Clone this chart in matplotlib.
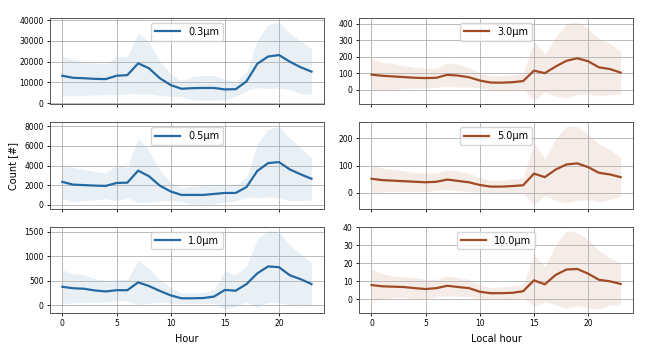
import numpy as np
import matplotlib
matplotlib.use("Agg")
import matplotlib.pyplot as plt
from matplotlib.ticker import MultipleLocator

hours = np.arange(24)

# mean counts per hour and their spread (std)
sizes = ["0.3µm", "0.5µm", "1.0µm", "3.0µm", "5.0µm", "10.0µm"]

mean_03 = [13200, 12200, 12000, 11700, 11600, 13200, 13500, 19200, 16800, 12000, 8700, 6900,
           7200, 7300, 7300, 6600, 6700, 10500, 19000, 22500, 23200, 20000, 17300, 15200]
std_03 = [9500, 8800, 8200, 7800, 7500, 9300, 9000, 14800, 12500, 8300, 5500, 4000,
          5500, 6000, 6000, 4800, 3700, 4500, 11500, 15500, 16000, 13500, 12800, 11000]

mean_05 = [2330, 2050, 2000, 1950, 1920, 2220, 2250, 3480, 2900, 1950, 1350, 1000,
           1000, 1000, 1100, 1200, 1200, 1800, 3450, 4250, 4350, 3600, 3100, 2650]
std_05 = [1700, 1750, 1600, 1450, 1300, 1800, 1550, 3300, 2600, 1550, 950, 700,
          900, 1000, 1000, 900, 800, 1000, 2750, 3450, 3650, 3200, 2700, 2150]

mean_10 = [375, 345, 335, 300, 280, 305, 305, 465, 390, 290, 200, 140,
           140, 145, 175, 310, 295, 430, 650, 790, 775, 610, 530, 430]
std_10 = [345, 295, 285, 240, 220, 215, 215, 455, 350, 230, 160, 110,
          110, 115, 145, 390, 325, 370, 700, 730, 725, 610, 520, 430]

mean_30 = [91, 84, 80, 76, 72, 70, 72, 90, 85, 75, 55, 43,
           42, 45, 52, 115, 100, 140, 175, 190, 172, 135, 125, 103]
std_30 = [99, 81, 80, 69, 63, 60, 58, 70, 70, 60, 45, 42,
          43, 45, 48, 180, 115, 180, 225, 220, 198, 175, 155, 127]

mean_50 = [51, 46, 44, 42, 40, 38, 40, 48, 43, 38, 28, 22,
           22, 24, 27, 70, 57, 85, 104, 108, 94, 73, 67, 57]
std_50 = [54, 44, 41, 38, 35, 34, 32, 37, 37, 34, 27, 23,
          23, 26, 28, 115, 68, 115, 141, 137, 121, 107, 93, 73]

mean_100 = [7.9, 7.2, 7.0, 6.8, 6.2, 5.7, 6.2, 7.5, 6.8, 6.2, 4.2, 3.4,
            3.4, 3.6, 4.5, 10.5, 8.3, 13.5, 16.5, 16.8, 14.2, 10.8, 10.0, 8.5]
std_100 = [9, 7, 6, 5.7, 5.8, 5.3, 4.8, 5.5, 5.2, 4.8, 3.8, 3.1,
           3.6, 3.9, 3.5, 14.5, 9.7, 16.5, 21.5, 20.2, 18.8, 16.2, 13, 11.5]

means = [mean_03, mean_05, mean_10, mean_30, mean_50, mean_100]
stds = [std_03, std_05, std_10, std_30, std_50, std_100]
ytick_step = [10000, 2000, 500, 100, 100, 10]

blue = "#2469a1"
brown = "#a04a26"

fig = plt.figure(figsize=(6.48, 3.47), dpi=100)
gs = fig.add_gridspec(3, 2, left=0.077, right=0.977, top=0.948, bottom=0.098,
                      wspace=0.128, hspace=0.21)

axes = np.empty((3, 2), dtype=object)
for col in range(2):
    for row in range(3):
        share = axes[0, col] if row > 0 else None
        axes[row, col] = fig.add_subplot(gs[row, col], sharex=share)

for i in range(6):
    col = i // 3
    row = i % 3
    ax = axes[row, col]
    color = blue if col == 0 else brown
    m = np.array(means[i])
    s = np.array(stds[i])
    ax.fill_between(hours, m - s, m + s, color=color, alpha=0.1, lw=0)
    ax.plot(hours, m, color=color, lw=1.6, label=sizes[i])
    ax.yaxis.set_major_locator(MultipleLocator(ytick_step[i]))
    ax.grid(True, color="#b0b0b0", lw=0.6)
    ax.tick_params(labelsize=5.5, length=2.5, width=0.6, pad=2)
    for sp in ax.spines.values():
        sp.set_color("#555555")
        sp.set_linewidth(0.7)
    ax.legend(loc="upper center", fontsize=7, handlelength=2.6, framealpha=0.8,
              borderpad=0.4)
    if row < 2:
        plt.setp(ax.get_xticklabels(), visible=False)
    ax.set_xticks([0, 5, 10, 15, 20])

axes[2, 0].set_xlabel("Hour", fontsize=7)
axes[2, 1].set_xlabel("Local hour", fontsize=7)
axes[1, 0].set_ylabel("Count [#]", fontsize=7)

fig.savefig("out.png", dpi=100)
